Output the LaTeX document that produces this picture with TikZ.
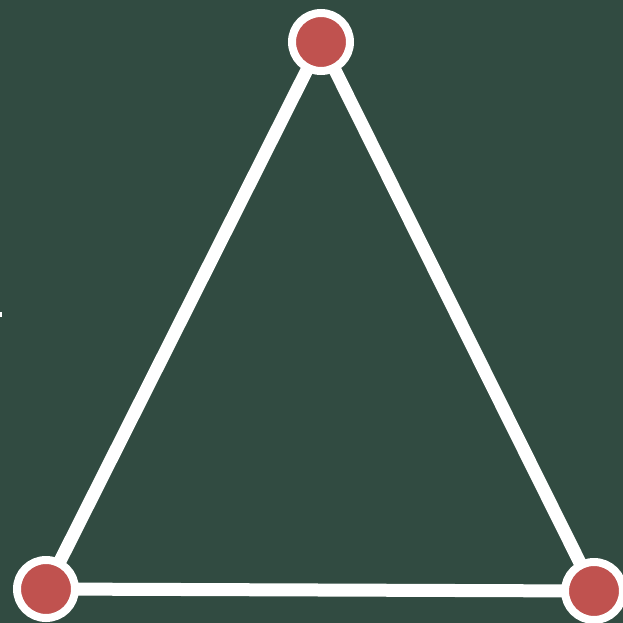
\documentclass[tikz,border=0pt]{standalone}
\definecolor{board}{RGB}{49,75,65}
\definecolor{dotred}{RGB}{192,82,79}
\tikzset{
  vertex/.style={circle, fill=dotred, draw=white, line width=8pt, minimum size=58pt, inner sep=0pt},
  edge/.style={draw=white, line width=13pt}
}
\begin{document}
\begin{tikzpicture}[x=1pt,y=-1pt]
\fill[board] (0,0) rectangle (623,623);
\useasboundingbox (0,0) rectangle (623,623);
\fill[white] (0,312) rectangle (2,317);
\coordinate (T) at (321,42);
\coordinate (L) at (46,589);
\coordinate (R) at (594,591);
\draw[edge] (T) -- (L);
\draw[edge] (T) -- (R);
\draw[edge] (L) -- (R);
\node[vertex] (t) at (T) {};
\node[vertex] (l) at (L) {};
\node[vertex] (r) at (R) {};
\end{tikzpicture}
\end{document}
